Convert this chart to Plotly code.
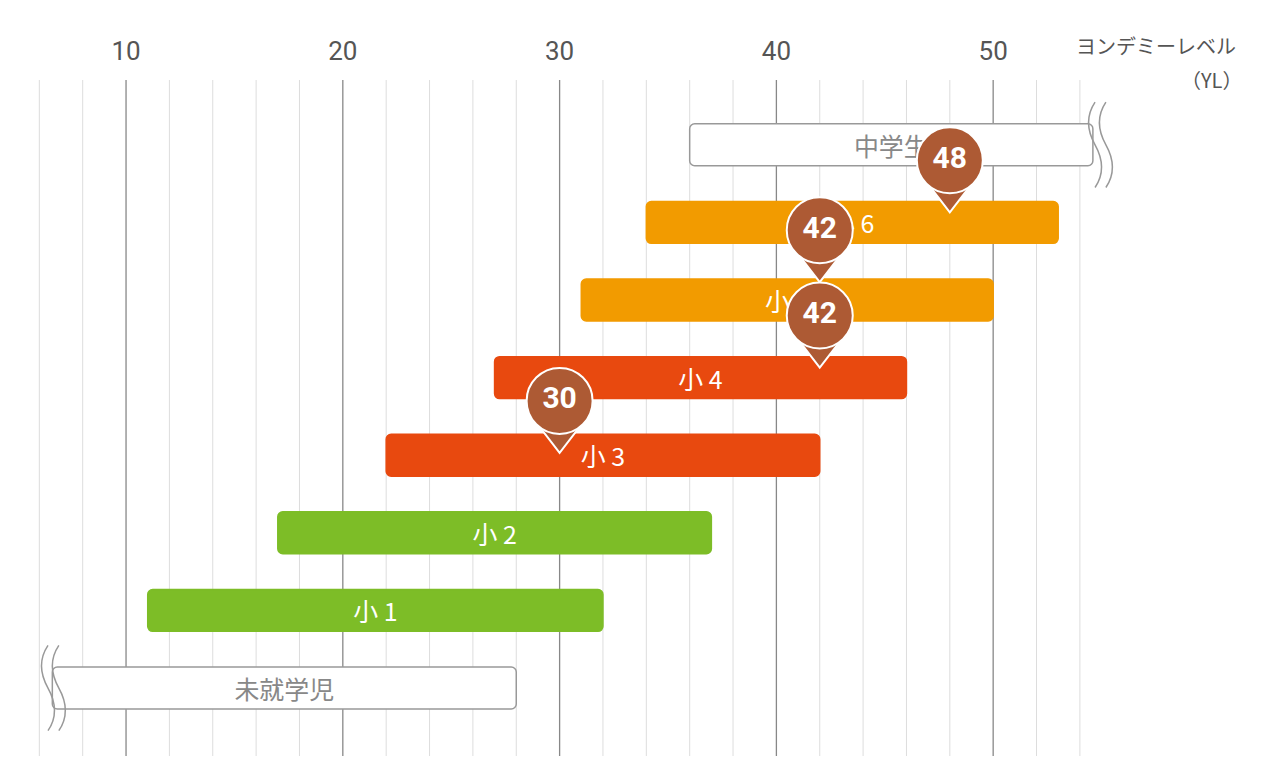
import plotly.graph_objects as go

# reading-level ranges per grade (YL)
grades = ["未就学児", "小 1", "小 2", "小 3", "小 4", "小 5", "小 6", "中学生"]
starts = [6.6, 11, 17, 22, 27, 31, 34, 36]
ends = [28, 32, 37, 42, 46, 50, 53, 54.6]
colors = ["#ffffff", "#7dbd27", "#7dbd27", "#e8490f", "#e8490f", "#f29b00", "#f29b00", "#ffffff"]
text_colors = ["#888888", "white", "white", "white", "white", "white", "white", "#888888"]

# pins: value and the row they point at
pin_values = [30, 42, 42, 48]
pin_rows = [3, 4.1, 5.2, 6.1]

ticks = [10, 20, 30, 40, 50]

fig = go.Figure()

fig.add_trace(go.Bar(
    y=list(range(len(grades))), x=[e - s for s, e in zip(starts, ends)], base=starts,
    orientation="h", width=0.54,
    marker=dict(color=colors, line=dict(color=["#999999" if c == "#ffffff" else c for c in colors], width=1.5)),
    text=grades, textposition="inside", insidetextanchor="middle",
    textfont=dict(size=25, color=text_colors), hoverinfo="skip",
))

pin_color = "#ad5a34"
fig.add_trace(go.Scatter(
    x=pin_values, y=[r + 0.3 for r in pin_rows], mode="markers",
    marker=dict(symbol="triangle-down", size=42, color=pin_color, line=dict(color="white", width=2)),
    hoverinfo="skip",
))
fig.add_trace(go.Scatter(
    x=pin_values, y=[r + 0.7 for r in pin_rows], mode="markers+text",
    text=["<b>%d</b>" % v for v in pin_values], textposition="middle center",
    textfont=dict(size=30, color="white", family="Roboto"),
    marker=dict(symbol="circle", size=66, color=pin_color, line=dict(color="white", width=2)),
    hoverinfo="skip",
))

shapes = []
for v in range(6, 55, 2):
    major = v % 10 == 0
    shapes.append(dict(type="line", xref="x", yref="paper", x0=v, x1=v, y0=0, y1=1,
                       line=dict(color="#888888" if major else "#dddddd", width=1.3 if major else 1),
                       layer="below"))
# wavy break marks
for dx in (0, 0.5):
    shapes.append(dict(type="path", xref="x", yref="y",
                       path=f"M {54.7+dx},7.55 Q {54.1+dx},7.3 {54.7+dx},7.0 Q {55.3+dx},6.7 {54.7+dx},6.45",
                       line=dict(color="#999999", width=1.5)))
    shapes.append(dict(type="path", xref="x", yref="y",
                       path=f"M {6.4+dx},0.55 Q {5.8+dx},0.3 {6.4+dx},0.0 Q {7.0+dx},-0.3 {6.4+dx},-0.55",
                       line=dict(color="#999999", width=1.5)))

fig.update_layout(
    width=1280, height=759, margin=dict(l=0, r=0, t=72, b=11, autoexpand=False),
    plot_bgcolor="white", paper_bgcolor="white", showlegend=False,
    barcornerradius=5, shapes=shapes,
    font=dict(family="Noto Sans CJK JP, Roboto", color="#555555"),
    xaxis=dict(range=[4.555, 63.6], side="top", tickvals=ticks, showgrid=False, zeroline=False,
               automargin=False, ticklabelstandoff=14,
               tickfont=dict(size=26, color="#555555", family="Roboto"), ticks="", showline=False),
    yaxis=dict(range=[-0.876, 7.835], visible=False, automargin=False),
    annotations=[
        dict(x=1147, y=28, xref="paper", yref="paper", showarrow=False),
    ],
)
fig.layout.annotations = [
    dict(x=0.897, y=1.075, xref="paper", yref="paper", showarrow=False, xanchor="center",
         text="ヨンデミーレベル", font=dict(size=20, color="#555555")),
    dict(x=0.94, y=1.025, xref="paper", yref="paper", showarrow=False, xanchor="center",
         text="（YL）", font=dict(size=20, color="#555555")),
]

fig.write_html("out.html")
